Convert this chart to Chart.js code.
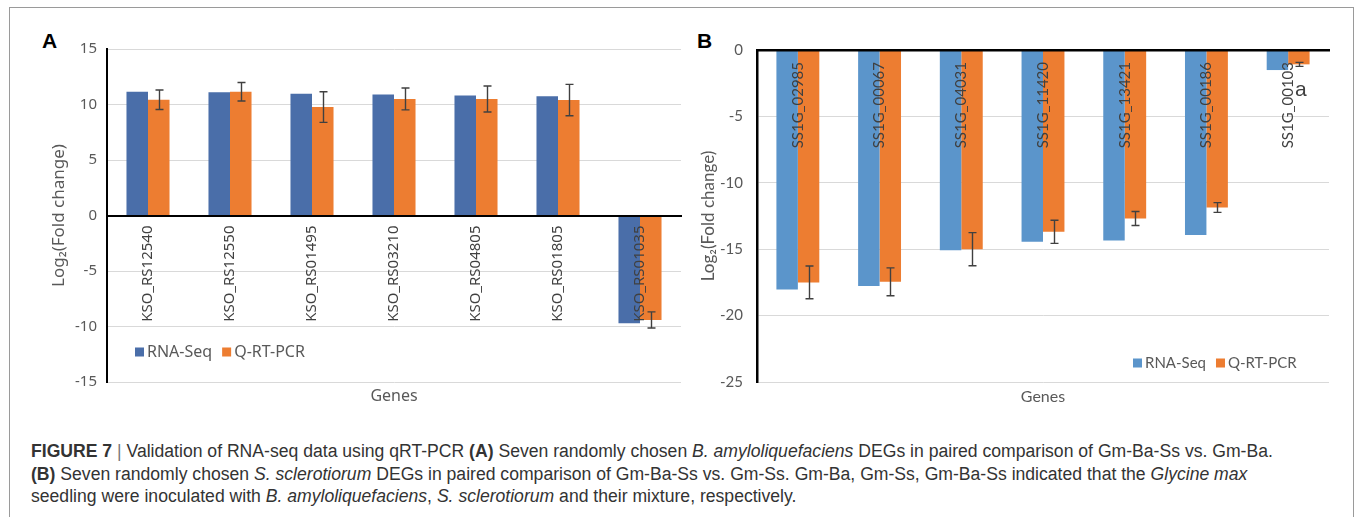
<!DOCTYPE html>
<html>
<head>
<meta charset="utf-8">
<script src="https://cdn.jsdelivr.net/npm/chart.js@4.4.1/dist/chart.umd.min.js"></script>
<style>
html, body { margin: 0; padding: 0; background: #fff; }
body { width: 1355px; height: 517px; position: relative; overflow: hidden; }
#frame { position: absolute; left: 9px; top: 7px; width: 1345px; height: 540px; border: 1px solid #9a9a9a; box-sizing: border-box; }
.panel { position: absolute; top: 10px; }
#chartA { left: 10px; }
#chartB { left: 690px; }
.tag { position: absolute; font: bold 21px "Liberation Sans", Arial, sans-serif; line-height: 1; color: #000; }
#caption { position: absolute; left: 31px; top: 440px; font: 17.6px "Liberation Sans", sans-serif; line-height: 22.5px; color: #333; white-space: nowrap; }
#caption .sep { color: #777; }
</style>
</head>
<body>
<div id="frame"></div>
<div class="tag" style="left:42px;top:30px;">A</div>
<div class="tag" style="left:697px;top:30px;">B</div>
<canvas id="chartA" class="panel" width="680" height="400"></canvas>
<canvas id="chartB" class="panel" width="655" height="400"></canvas>
<div id="caption"><b>FIGURE 7</b> <span class="sep">|</span> Validation of RNA-seq data using qRT-PCR <b>(A)</b> Seven randomly chosen <i>B. amyloliquefaciens</i> DEGs in paired comparison of Gm-Ba-Ss vs. Gm-Ba.<br><b>(B)</b> Seven randomly chosen <i>S. sclerotiorum</i> DEGs in paired comparison of Gm-Ba-Ss vs. Gm-Ss. Gm-Ba, Gm-Ss, Gm-Ba-Ss indicated that the <i>Glycine max</i><br>seedling were inoculated with <i>B. amyloliquefaciens</i>, <i>S. sclerotiorum</i> and their mixture, respectively.</div>

<script>
// series names
const seriesNames = ['RNA-Seq', 'Q-RT-PCR'];

// panel A - B. amyloliquefaciens genes
const genesA = ['KSO_RS12540', 'KSO_RS12550', 'KSO_RS01495', 'KSO_RS03210', 'KSO_RS04805', 'KSO_RS01805', 'KSO_RS01035'];
const rnaSeqA = [11.15, 11.1, 10.97, 10.9, 10.8, 10.74, -9.7];
const qpcrA = [10.43, 11.15, 9.77, 10.5, 10.5, 10.4, -9.41];
const qpcrErrA = [0.88, 0.83, 1.38, 0.98, 1.17, 1.41, 0.73];
const yTicksA = [-15, -10, -5, 0, 5, 10, 15];

// panel B - S. sclerotiorum genes
const genesB = ['SS1G_02985', 'SS1G_00067', 'SS1G_04031', 'SS1G_11420', 'SS1G_13421', 'SS1G_00186', 'SS1G_00103'];
const rnaSeqB = [-18.03, -17.78, -15.07, -14.44, -14.34, -13.94, -1.51];
const qpcrB = [-17.5, -17.46, -15.0, -13.69, -12.69, -11.86, -1.08];
const qpcrErrB = [1.23, 1.05, 1.25, 0.87, 0.53, 0.37, 0.15];
const yTicksB = [-25, -20, -15, -10, -5, 0];

const orange = '#ED7D31';

// error bars, legend inside plot and the small "a" note
function figExtras(cfg) {
  return {
    id: 'figExtras',
    afterDatasetsDraw(chart) {
      const ctx = chart.ctx, ys = chart.scales.y;
      chart.data.datasets.forEach((ds, i) => {
        if (!ds.errors) return;
        chart.getDatasetMeta(i).data.forEach((bar, j) => {
          const v = ds.data[j], e = ds.errors[j];
          const x = Math.round(bar.x) + 0.5;
          const y1 = ys.getPixelForValue(v + e), y2 = ys.getPixelForValue(v - e);
          ctx.save();
          ctx.strokeStyle = '#404040';
          ctx.lineWidth = 1.4;
          ctx.beginPath();
          ctx.moveTo(x, y1); ctx.lineTo(x, y2);
          ctx.moveTo(x - 4, y1); ctx.lineTo(x + 4, y1);
          ctx.moveTo(x - 4, y2); ctx.lineTo(x + 4, y2);
          ctx.stroke();
          ctx.restore();
        });
      });
    },
    afterDraw(chart) {
      const ctx = chart.ctx, area = chart.chartArea;
      let x = area.left + cfg.legendX;
      const y = area.top + cfg.legendY;
      ctx.save();
      ctx.font = cfg.legendFont;
      ctx.textBaseline = 'middle';
      chart.data.datasets.forEach(ds => {
        ctx.fillStyle = ds.backgroundColor;
        ctx.fillRect(x, y - 4.5, 9, 9);
        x += 12;
        ctx.fillStyle = '#595959';
        ctx.fillText(ds.label, x, y);
        x += ctx.measureText(ds.label).width + 10;
      });
      if (cfg.note) {
        const bar = chart.getDatasetMeta(1).data[cfg.note.index];
        ctx.font = cfg.note.font;
        ctx.fillStyle = '#404040';
        ctx.textAlign = 'center';
        ctx.fillText(cfg.note.text, bar.x + 2, area.top + cfg.note.dy);
      }
      ctx.restore();
    }
  };
}

function makeChart(id, o) {
  return new Chart(document.getElementById(id), {
    type: 'bar',
    data: {
      labels: o.labels,
      datasets: [
        { label: seriesNames[0], data: o.rna, backgroundColor: o.blue, xAxisID: 'x' },
        { label: seriesNames[1], data: o.qpcr, errors: o.err, backgroundColor: orange, xAxisID: 'x' }
      ]
    },
    options: {
      responsive: false,
      animation: false,
      layout: { padding: o.padding },
      datasets: { bar: { categoryPercentage: 0.525, barPercentage: 1 } },
      plugins: { legend: { display: false }, tooltip: { enabled: false } },
      scales: {
        x: {
          type: 'category',
          position: { y: 0 },
          grid: { color: 'rgba(0,0,0,0)', drawOnChartArea: false, tickLength: o.labelGap },
          border: { color: '#000', width: o.axisW, z: 1 },
          ticks: { autoSkip: false, minRotation: 90, maxRotation: 90, padding: 0, z: 1, color: '#404040', font: { family: o.font, size: o.labelSize } }
        },
        xg: {
          type: 'category',
          position: 'bottom',
          afterFit: s => { s.height = o.bottomH; },
          grid: { display: false },
          border: { display: false },
          ticks: { display: false },
          title: { display: true, text: 'Genes', color: '#595959', font: { family: o.font, size: 16 }, padding: { top: 4, bottom: 4 } }
        },
        y: {
          min: o.yTicks[0],
          max: o.yTicks[o.yTicks.length - 1],
          afterFit: s => { s.width = o.yW; },
          afterBuildTicks: s => { s.ticks = o.yTicks.map(v => ({ value: v })); },
          grid: { color: '#d9d9d9', drawTicks: false },
          border: { color: '#000', width: o.axisW, z: 1 },
          ticks: { color: '#595959', padding: o.tickPad, font: { family: o.font, size: 15 } },
          title: { display: true, text: 'Log₂(Fold change)', color: '#595959', font: { family: o.font, size: 17 }, padding: { top: 4, bottom: 4 } }
        }
      }
    },
    plugins: [figExtras(o.extras)]
  });
}

makeChart('chartA', {
  labels: genesA, rna: rnaSeqA, qpcr: qpcrA, err: qpcrErrA, yTicks: yTicksA,
  blue: '#4A6EA9', font: 'Noto Sans', labelSize: 15, labelGap: 10, axisW: 2,
  padding: { left: 35, right: 9, top: 39, bottom: 0 }, yW: 62, tickPad: 10, bottomH: 28,
  extras: { legendX: 28, legendY: 303, legendFont: '16px "Noto Sans"' }
});

makeChart('chartB', {
  labels: genesB, rna: rnaSeqB, qpcr: qpcrB, err: qpcrErrB, yTicks: yTicksB,
  blue: '#5B95CB', font: 'Lato', labelSize: 15, labelGap: 12, axisW: 2.5,
  padding: { left: 4, right: 16, top: 40, bottom: 0 }, yW: 63, tickPad: 14, bottomH: 28,
  extras: { legendX: 376, legendY: 313, legendFont: '15px Lato', note: { index: 6, text: 'a', dy: 40, font: '21px "Liberation Sans"' } }
});
</script>
</body>
</html>
